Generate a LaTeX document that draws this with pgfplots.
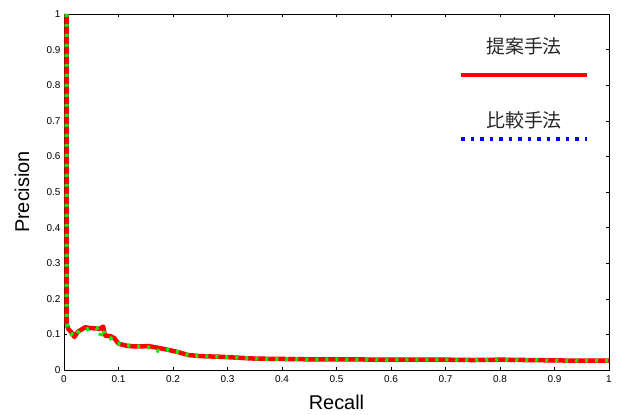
\documentclass[border=0pt]{standalone}
\usepackage{fontspec}
\setmainfont{Liberation Sans}
\newfontfamily\jpfont{Noto Sans CJK JP}
\usepackage{pgfplots}
\pgfplotsset{compat=1.18}
\usetikzlibrary{calc}
\definecolor{mygreen}{RGB}{20,235,10}
\pgfplotsset{
  legA/.style={legend image code/.code={
    \path[draw=none, fill=none] (0bp,-10bp) rectangle (126bp,42bp);
    \draw[red, line width=3.7bp, solid] (0bp,0bp) -- (126bp,0bp);
    \node[draw=none, text=black!85, font=\jpfont\fontsize{19}{19}\selectfont] at (63bp,29bp) {提案手法};
  }},
  legB/.style={legend image code/.code={
    \path[draw=none, fill=none] (0bp,-10bp) rectangle (126bp,54bp);
    \draw[blue, line width=4bp, dash pattern=on 3.5bp off 6bp] (0bp,0bp) -- (126bp,0bp);
    \node[draw=none, text=black!85, font=\jpfont\fontsize{19}{19}\selectfont] at (63bp,19bp) {比較手法};
  }},
}
\begin{document}
\begin{tikzpicture}
\begin{axis}[
  scale only axis, width=545bp, height=356bp,
  xmin=0, xmax=1, ymin=0, ymax=1,
  xtick={0,0.1,...,1.0}, ytick={0,0.1,...,1.0},
  tick align=inside, major tick length=3bp,
  tick style={black, line width=0.5bp},
  axis line style={black, line width=0.7bp},
  /pgf/number format/assume math mode=true,
  ticklabel style={font=\fontsize{10}{12}\selectfont},
  xticklabel style={yshift=-2bp},
  xlabel={Recall}, ylabel={Precision},
  label style={font=\fontsize{20}{24}\selectfont},
  xlabel style={at={(axis description cs:0.5,-0.09)}, anchor=center},
  ylabel style={at={(axis description cs:-0.077,0.5)}, anchor=center},
  legend style={draw=none, fill=none, inner sep=0pt, outer sep=0pt,
    row sep=0pt, column sep=0pt, nodes={inner sep=0pt, outer sep=0pt},
    at={(rel axis cs:0.7248,0.9466)}, anchor=north west},
]
\addplot[red, line width=4.5bp, line join=round, forget plot] coordinates {
(0.005,1.0) (0.005,0.13) (0.008,0.115) (0.014,0.105) (0.019,0.093) (0.026,0.108)
(0.039,0.120) (0.047,0.118) (0.057,0.117) (0.066,0.116) (0.072,0.122) (0.075,0.097)
(0.085,0.095) (0.092,0.090) (0.100,0.074) (0.115,0.068) (0.130,0.066) (0.155,0.067)
(0.167,0.064) (0.190,0.057) (0.210,0.050) (0.228,0.042) (0.250,0.039) (0.289,0.037)
(0.350,0.032) (0.400,0.031) (0.450,0.030) (0.500,0.030) (0.600,0.029) (0.700,0.029)
(0.750,0.028) (0.800,0.029) (0.850,0.028) (0.900,0.027) (0.950,0.026) (1.000,0.026)
};
\addplot[mygreen, line width=4bp, dash pattern=on 3bp off 7bp, forget plot] coordinates {
(0.005,1.0) (0.005,0.13) (0.009,0.110) (0.018,0.093) (0.030,0.112) (0.045,0.115)
(0.055,0.118) (0.060,0.118) (0.066,0.095) (0.071,0.116) (0.075,0.097) (0.085,0.090)
(0.092,0.078) (0.110,0.070) (0.130,0.067) (0.160,0.063) (0.175,0.052) (0.190,0.057)
(0.210,0.050) (0.228,0.042) (0.250,0.039) (0.289,0.037) (0.350,0.032) (0.400,0.031)
(0.450,0.030) (0.500,0.030) (0.600,0.029) (0.700,0.029) (0.750,0.028) (0.800,0.029)
(0.850,0.028) (0.900,0.027) (0.950,0.026) (1.000,0.026)
};
\addlegendimage{legA}
\addlegendentry{}
\addlegendimage{legB}
\addlegendentry{}
\end{axis}
\pgfresetboundingbox
\path[use as bounding box] ($(current axis.south west)+(-64bp,-45bp)$) rectangle ($(current axis.north east)+(13bp,14bp)$);
\end{tikzpicture}
\end{document}
